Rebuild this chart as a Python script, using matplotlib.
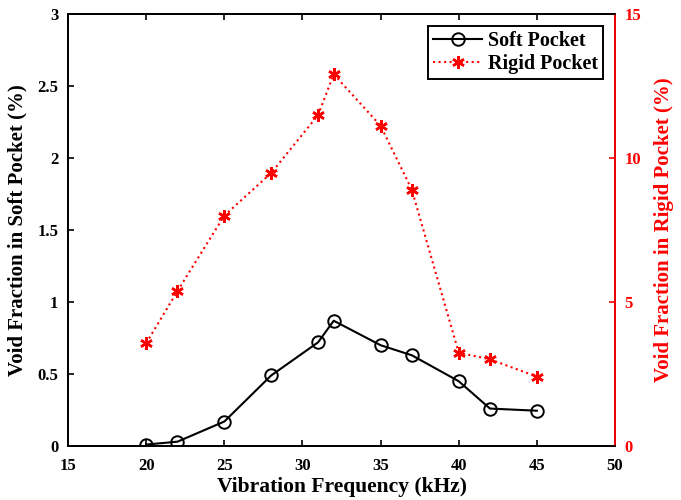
import matplotlib
matplotlib.use("Agg")
import matplotlib.pyplot as plt

freq = [20, 22, 25, 28, 31, 32, 35, 37, 40, 42, 45]
soft = [0.01, 0.03, 0.17, 0.49, 0.72, 0.87, 0.70, 0.63, 0.45, 0.26, 0.245]
rigid = [3.57, 5.38, 8.0, 9.48, 11.49, 12.91, 11.12, 8.90, 3.24, 3.01, 2.41]

plt.rcParams['font.family'] = ['Liberation Serif', 'DejaVu Serif']
plt.rcParams['font.weight'] = 'bold'

fig = plt.figure(figsize=(6.81, 5), dpi=100)
ax = fig.add_axes([0.1, 0.108, 0.803, 0.864])
l1, = ax.plot(freq, soft, color='black', lw=1.5, marker='o', ms=9, mfc='none', mew=1.4, label='Soft Pocket')
ax.set_xlim(15, 50)
ax.set_ylim(0, 3)
ax.set_xticks(range(15, 51, 5))
ax.set_yticks([0, 0.5, 1, 1.5, 2, 2.5, 3])
ax.set_yticklabels(['0', '0.5', '1', '1.5', '2', '2.5', '3'])
ax.set_xlabel('Vibration Frequency (kHz)', fontsize=15.5, fontweight='bold', labelpad=2)
ax.set_ylabel('Void Fraction in Soft Pocket (%)', fontsize=15, fontweight='bold', labelpad=7)
ax.tick_params(direction='in', labelsize=12, top=True, length=4, width=1.2)
ax.tick_params(axis='x', pad=9)
ax.tick_params(axis='y', pad=7)
for s in ax.spines.values():
    s.set_linewidth(1.3)
for lab in ax.get_xticklabels() + ax.get_yticklabels():
    lab.set_fontweight('bold')

ax2 = ax.twinx()
l2, = ax2.plot(freq, rigid, color='red', lw=1.5, ls=':', marker=(6, 2, 0), ms=9, mew=1.8, mec='red', label='Rigid Pocket')
ax2.set_ylim(0, 15)
ax2.set_yticks([0, 5, 10, 15])
ax2.set_ylabel('Void Fraction in Rigid Pocket (%)', fontsize=15, fontweight='bold', color='red', labelpad=9)
ax2.tick_params(direction='in', labelsize=12, colors='red', length=4, width=1.2, pad=7)
for s in ax2.spines.values():
    s.set_linewidth(1.3)
ax2.spines['right'].set_color('red')
for lab in ax2.get_yticklabels():
    lab.set_fontweight('bold')

leg = ax.legend(handles=[l1, l2], loc='upper right', bbox_to_anchor=(0.978, 0.972), fontsize=14.5,
                frameon=True, fancybox=False, edgecolor='black', framealpha=1, borderpad=0.25,
                handlelength=2.4, handletextpad=0.3, labelspacing=0.15, borderaxespad=0)
leg.get_frame().set_linewidth(1.4)
for t in leg.get_texts():
    t.set_fontweight('bold')

fig.savefig('out.png', dpi=100)
